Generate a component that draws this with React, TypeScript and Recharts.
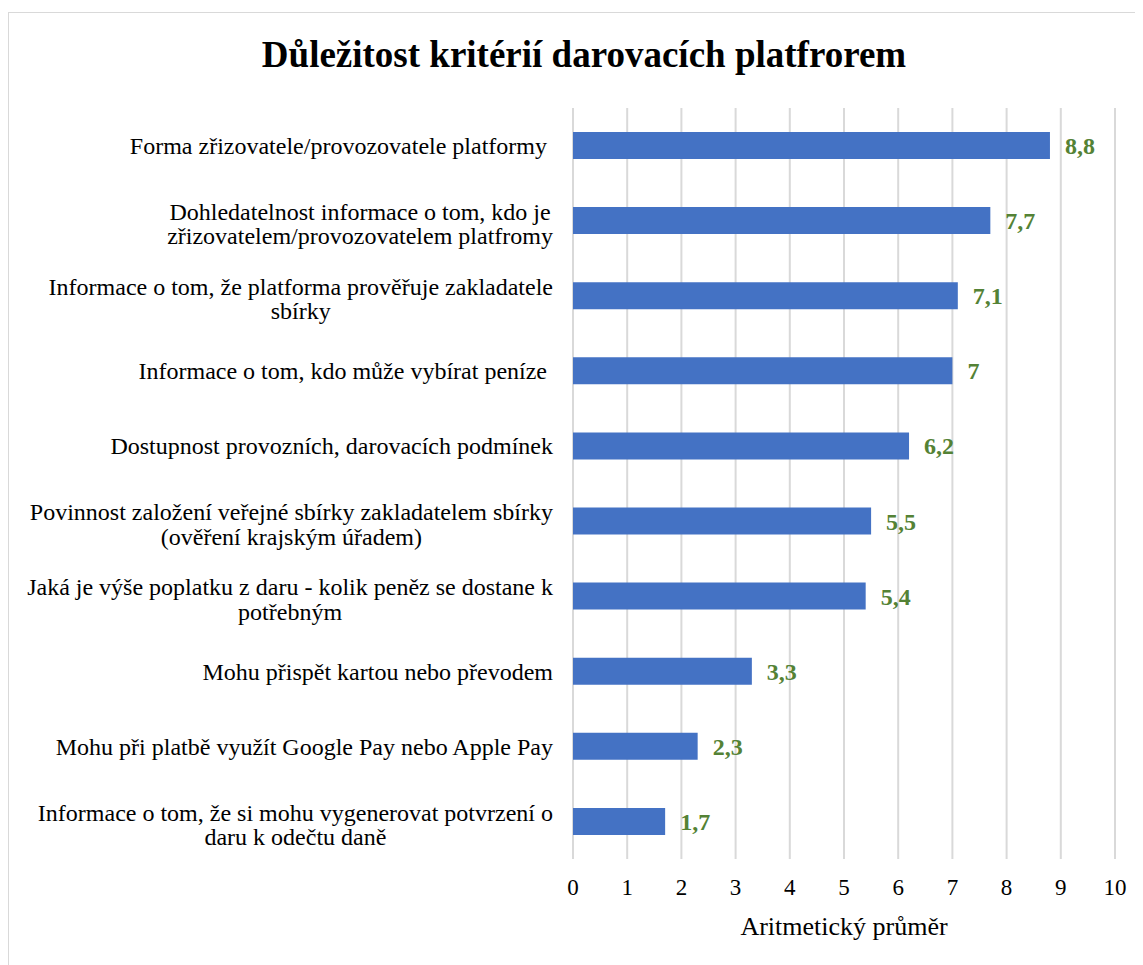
import React from "react";
import { BarChart, Bar, XAxis, YAxis, CartesianGrid, LabelList } from "recharts";

const criteria = [
  "Forma zřizovatele/provozovatele platformy ",
  "Dohledatelnost informace o tom, kdo je\nzřizovatelem/provozovatelem platfromy",
  "Informace o tom, že platforma prověřuje zakladatele\nsbírky",
  "Informace o tom, kdo může vybírat peníze ",
  "Dostupnost provozních, darovacích podmínek",
  "Povinnost založení veřejné sbírky zakladatelem sbírky\n(ověření krajským úřadem)",
  "Jaká je výše poplatku z daru - kolik peněz se dostane k\npotřebným",
  "Mohu přispět kartou nebo převodem",
  "Mohu při platbě využít Google Pay nebo Apple Pay",
  "Informace o tom, že si mohu vygenerovat potvrzení o\ndaru k odečtu daně",
];

const means = [8.8, 7.7, 7.1, 7, 6.2, 5.5, 5.4, 3.3, 2.3, 1.7];

const xTicks = [0, 1, 2, 3, 4, 5, 6, 7, 8, 9, 10];

const FONT = "'Liberation Serif', 'Times New Roman', serif";
const TICK_SIZE = 24;

const data = criteria.map((name, i) => ({ name, value: means[i] }));

let ctx: CanvasRenderingContext2D | null = null;
function textWidth(s: string) {
  if (!ctx) ctx = document.createElement("canvas").getContext("2d");
  if (!ctx) return s.length * 10;
  ctx.font = `${TICK_SIZE}px ${FONT}`;
  return ctx.measureText(s).width;
}

const CategoryTick = (props: any) => {
  const { x, y, payload } = props;
  const lines: string[] = String(payload.value).split("\n");
  const lineH = 24.5;
  if (lines.length === 1) {
    return (
      <text x={x} y={y} dy="0.35em" textAnchor="end" fontFamily={FONT} fontSize={TICK_SIZE} fill="#000" style={{ whiteSpace: "pre" }}>
        {lines[0]}
      </text>
    );
  }
  const maxW = Math.max(...lines.map(textWidth));
  const cx = x - maxW / 2;
  return (
    <text x={cx} y={y} textAnchor="middle" fontFamily={FONT} fontSize={TICK_SIZE} fill="#000">
      {lines.map((l, i) => (
        <tspan key={i} x={cx} y={y + (i - (lines.length - 1) / 2) * lineH + 3} dy="0.35em">
          {l}
        </tspan>
      ))}
    </text>
  );
};

export default function App() {
  return (
    <div
      style={{
        position: "relative",
        marginTop: 4,
        width: 1135,
        height: 953,
        borderLeft: "1px solid #d9d9d9",
        borderTop: "1px solid #d9d9d9",
        overflow: "hidden",
        background: "#fff",
      }}
    >
      <div
        style={{
          position: "absolute",
          left: 0,
          top: 20,
          width: 1150,
          textAlign: "center",
          fontFamily: FONT,
          fontWeight: "bold",
          fontSize: 37,
          color: "#000",
        }}
      >
        Důležitost kritérií darovacích platfrorem
      </div>
      <BarChart
        width={1134}
        height={952}
        data={data}
        layout="vertical"
        margin={{ top: 95, right: 28, bottom: 26, left: 0 }}
      >
        <CartesianGrid horizontal={false} stroke="#d9d9d9" strokeWidth={2} />
        <XAxis
          type="number"
          domain={[0, 10]}
          ticks={xTicks}
          interval={0}
          axisLine={false}
          tickLine={false}
          tickMargin={14}
          height={80}
          tick={{ fontFamily: FONT, fontSize: 23, fill: "#000" }}
          label={{
            value: "Aritmetický průměr",
            position: "insideBottom",
            offset: 4,
            style: { fontFamily: FONT, fontSize: 26, fill: "#000" },
          }}
        />
        <YAxis
          type="category"
          dataKey="name"
          width={564}
          axisLine={false}
          tickLine={false}
          tickSize={0}
          tickMargin={20}
          interval={0}
          tick={<CategoryTick />}
        />
        <Bar dataKey="value" fill="#4472C4" barSize={27} isAnimationActive={false}>
          <LabelList
            dataKey="value"
            position="right"
            offset={15}
            formatter={(v: any) => String(v).replace(".", ",")}
            style={{ fontFamily: FONT, fontSize: 24, fontWeight: "bold", fill: "#548235" }}
          />
        </Bar>
      </BarChart>
    </div>
  );
}
